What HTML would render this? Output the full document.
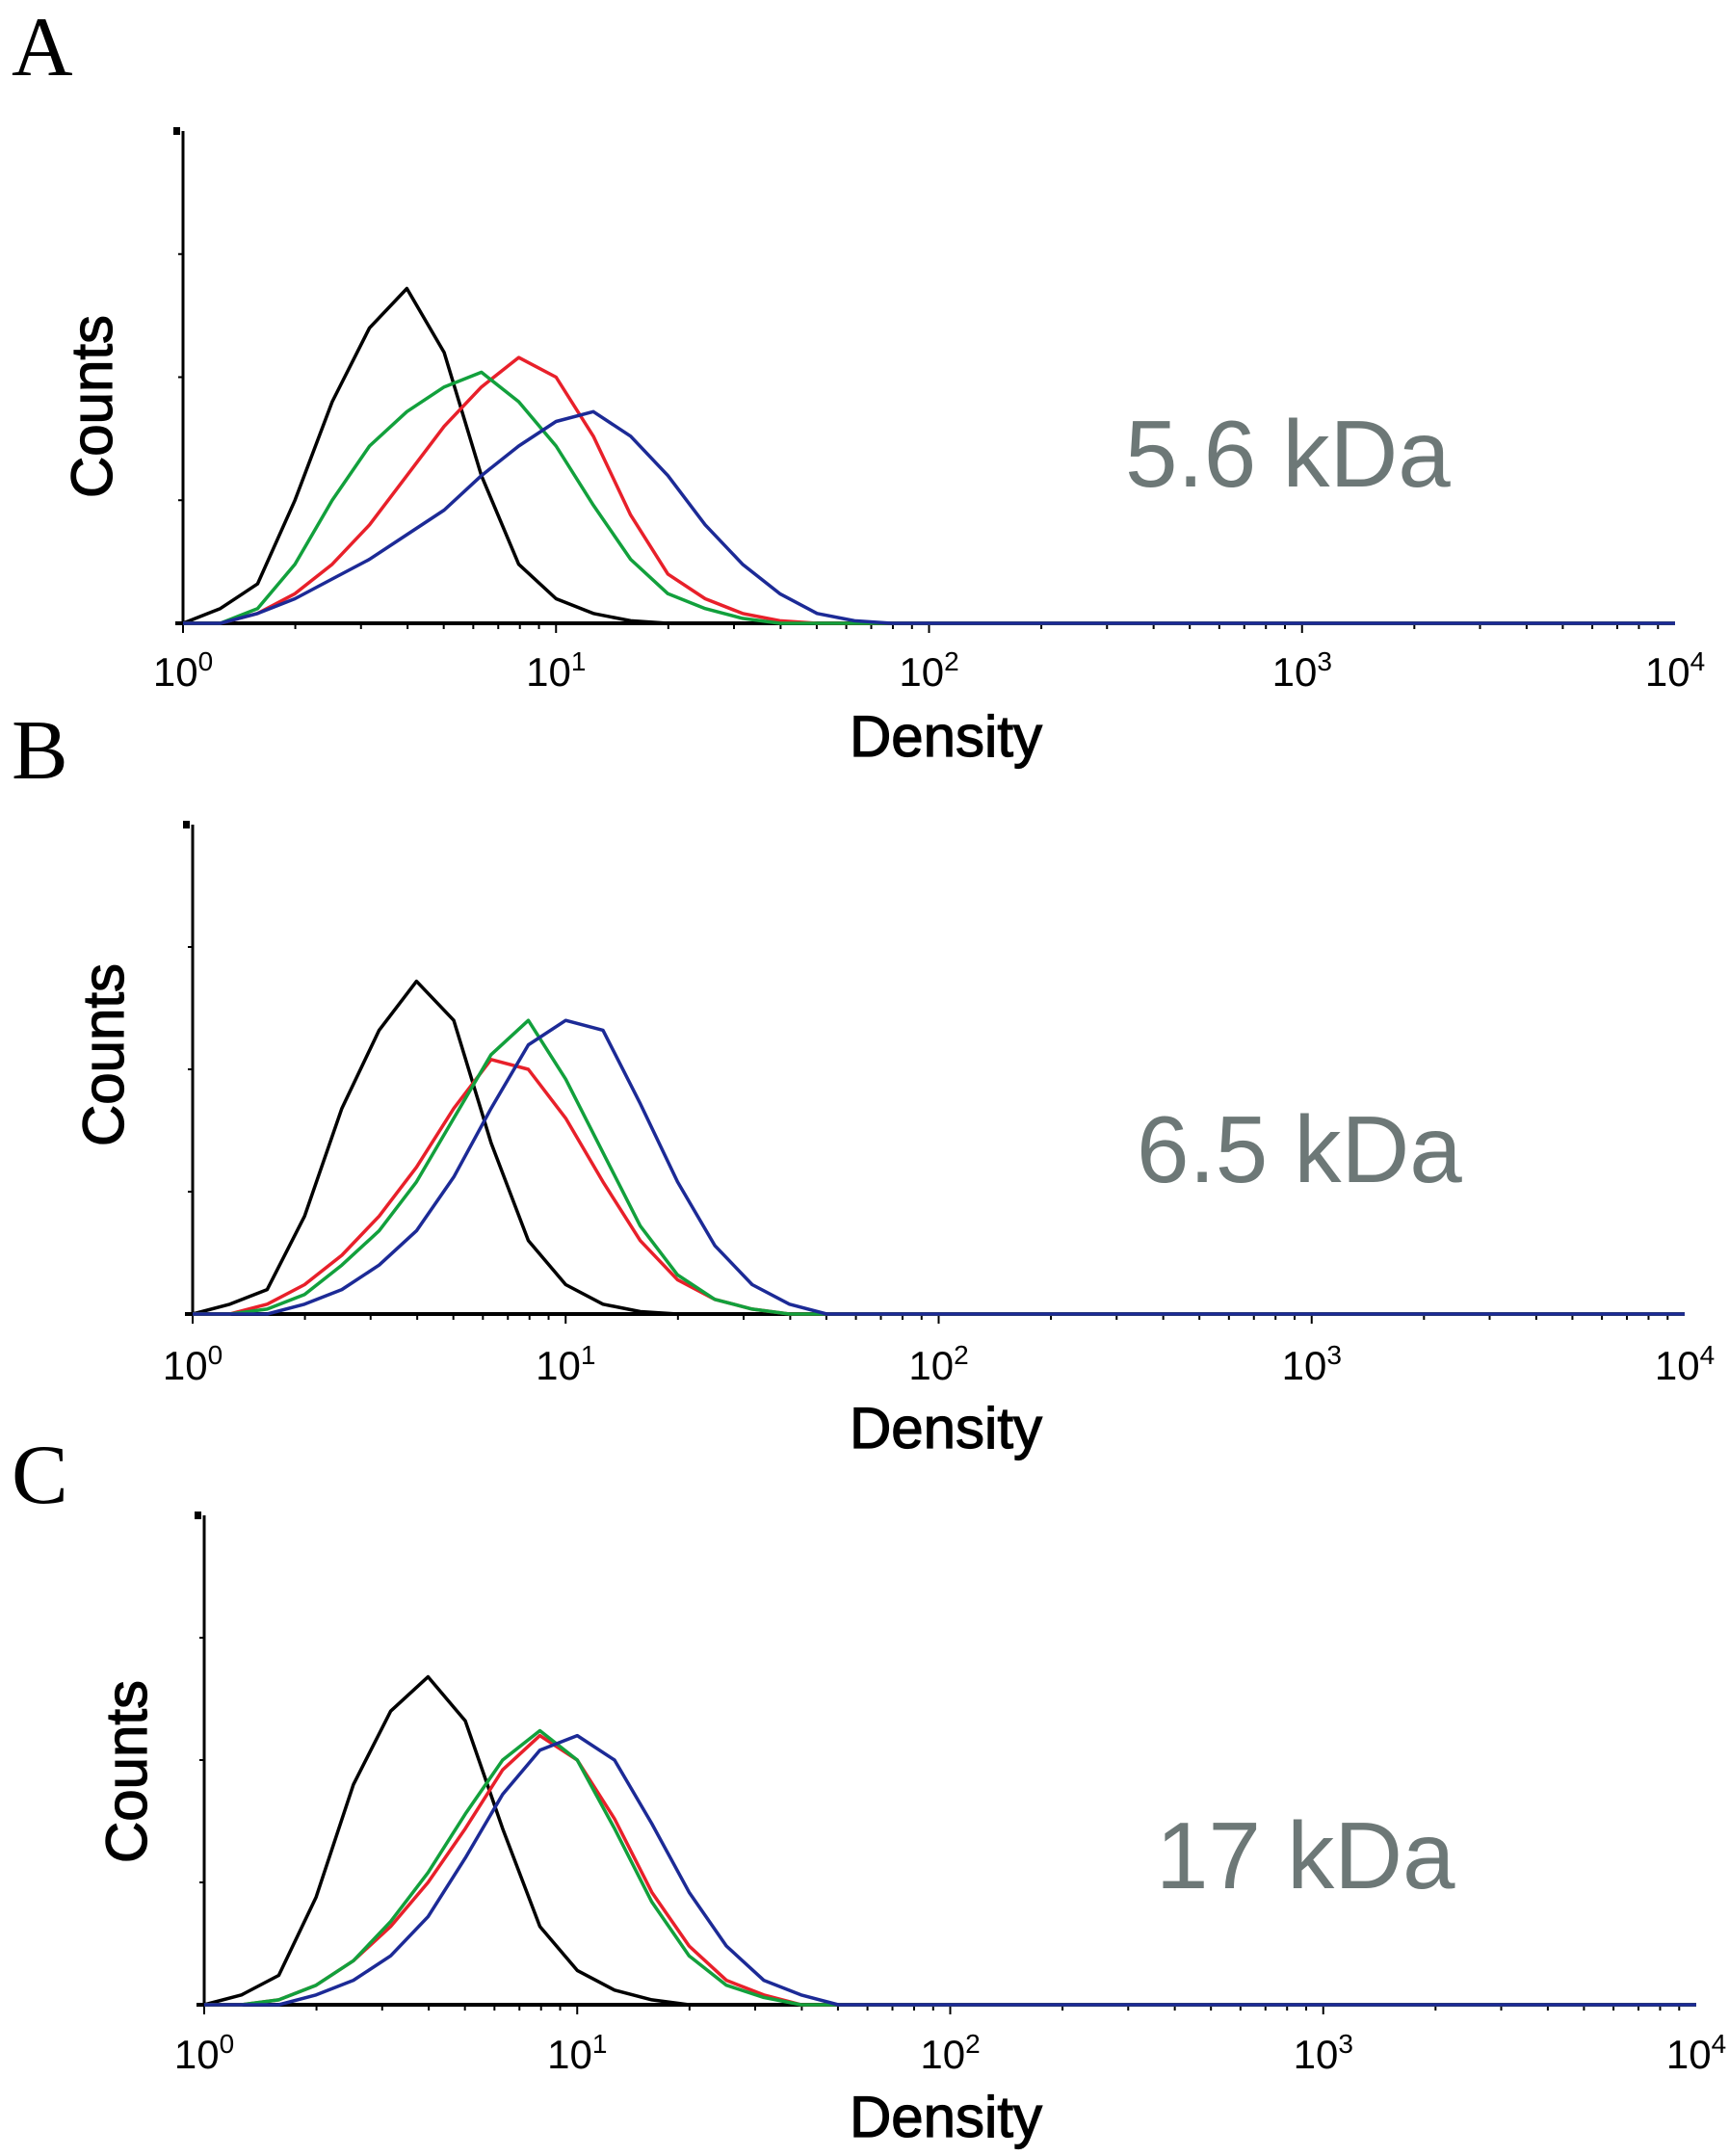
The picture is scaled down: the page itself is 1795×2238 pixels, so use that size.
<!DOCTYPE html>
<html><head><meta charset="utf-8"><style>
html,body{margin:0;padding:0;background:#fff;}
svg{display:block;}
.lt{font-family:"Liberation Serif",serif;font-size:88px;fill:#000;}
.tk{font-family:"Liberation Sans",sans-serif;font-size:42px;fill:#000;}
.ax{font-family:"Liberation Sans",sans-serif;font-size:60px;fill:#000;stroke:#000;stroke-width:1.2px;}
.kd{font-family:"Liberation Sans",sans-serif;font-size:98px;fill:#6d7877;}
</style></head><body>
<svg id="fig" width="1795" height="2238" viewBox="0 0 1795 2238" xmlns="http://www.w3.org/2000/svg"></svg>
<script>
// log10(density) sampling grid 0..2.0 step 0.1
const logGrid = [0,0.1,0.2,0.3,0.4,0.5,0.6,0.7,0.8,0.9,1.0,1.1,1.2,1.3,1.4,1.5,1.6,1.7,1.8,1.9,2.0];
const xTickLabels = ["0","1","2","3","4"];
const panelLabels = ["A","B","C"];
const kdaLabels = ["5.6 kDa","6.5 kDa","17 kDa"];
// fraction of axis height
const A_black = [0,0.03,0.08,0.25,0.45,0.6,0.68,0.55,0.3,0.12,0.05,0.02,0.005,0,0,0,0,0,0,0,0];
const A_red   = [0,0,0.02,0.06,0.12,0.2,0.3,0.4,0.48,0.54,0.5,0.38,0.22,0.1,0.05,0.02,0.005,0,0,0,0];
const A_green = [0,0,0.03,0.12,0.25,0.36,0.43,0.48,0.51,0.45,0.36,0.24,0.13,0.06,0.03,0.01,0,0,0,0,0];
const A_blue  = [0,0,0.02,0.05,0.09,0.13,0.18,0.23,0.3,0.36,0.41,0.43,0.38,0.3,0.2,0.12,0.06,0.02,0.005,0,0];
const B_black = [0,0.02,0.05,0.2,0.42,0.58,0.68,0.6,0.35,0.15,0.06,0.02,0.005,0,0,0,0,0,0,0,0];
const B_red   = [0,0,0.02,0.06,0.12,0.2,0.3,0.42,0.52,0.5,0.4,0.27,0.15,0.07,0.03,0.01,0,0,0,0,0];
const B_green = [0,0,0.01,0.04,0.1,0.17,0.27,0.4,0.53,0.6,0.48,0.33,0.18,0.08,0.03,0.01,0,0,0,0,0];
const B_blue  = [0,0,0,0.02,0.05,0.1,0.17,0.28,0.42,0.55,0.6,0.58,0.43,0.27,0.14,0.06,0.02,0,0,0,0];
const C_black = [0,0.02,0.06,0.22,0.45,0.6,0.67,0.58,0.36,0.16,0.07,0.03,0.01,0,0,0,0,0,0,0,0];
const C_red   = [0,0,0.01,0.04,0.09,0.16,0.25,0.36,0.48,0.55,0.5,0.38,0.23,0.12,0.05,0.02,0,0,0,0,0];
const C_green = [0,0,0.01,0.04,0.09,0.17,0.27,0.39,0.5,0.56,0.5,0.36,0.21,0.1,0.04,0.015,0,0,0,0,0];
const C_blue  = [0,0,0,0.02,0.05,0.1,0.18,0.3,0.43,0.52,0.55,0.5,0.37,0.23,0.12,0.05,0.02,0,0,0,0];

const panels = [
 {x0:190,x1:1739,top:136,base:647,tickY:712,densY:785,cx:100,cy:422,lx:12,ly:78,kx:1168,ky:505,series:[A_black,A_red,A_green,A_blue]},
 {x0:200,x1:1749,top:856,base:1364,tickY:1432,densY:1503,cx:112,cy:1095,lx:12,ly:808,kx:1180,ky:1227,series:[B_black,B_red,B_green,B_blue]},
 {x0:212,x1:1761,top:1573,base:2081,tickY:2147,densY:2218,cx:136,cy:1839,lx:12,ly:1560,kx:1200,ky:1960,series:[C_black,C_red,C_green,C_blue]}
];
const colors=["#000","#e8202a","#12a03c","#1c2a96"];
const names=["control","red","green","blue"];
const svg=document.getElementById('fig');
const NS="http://www.w3.org/2000/svg";
function mk(t,a,p){const e=document.createElementNS(NS,t);for(const k in a)e.setAttribute(k,a[k]);(p||svg).appendChild(e);return e;}
panels.forEach((P,pi)=>{
 const g=mk('g',{});
 
 
 const xs=v=>P.x0+(P.x1-P.x0)*v/4;
 const ys=f=>P.base-(P.base-P.top)*f;
 let t=mk('text',{x:P.lx,y:P.ly,class:'lt'},g);t.textContent=panelLabels[pi];
 
 
 let l=mk('line',{x1:P.x0,y1:P.top,x2:P.x0,y2:P.base,stroke:'#000','stroke-width':3},g);
 
 
 mk('rect',{x:P.x0-10,y:P.top-4,width:7,height:8,fill:'#000'},g);
 for(let i=1;i<4;i++)mk('line',{x1:P.x0-5,x2:P.x0,y1:ys(i*0.25),y2:ys(i*0.25),stroke:'#000','stroke-width':2},g);
 l=mk('line',{x1:P.x0-8,y1:P.base,x2:P.x1,y2:P.base,stroke:'#000','stroke-width':4},g);
 
 
 for(let d=0;d<4;d++)for(let m=1;m<10;m++){const x=xs(d+Math.log10(m));mk('line',{x1:x,x2:x,y1:P.base,y2:P.base+(m==1?10:6),stroke:'#000','stroke-width':2},g);}
 xTickLabels.forEach((s,i)=>{const tx=mk('text',{x:xs(i),y:P.tickY,class:'tk','text-anchor':'middle'},g);
  
  
  tx.innerHTML='10<tspan dy="-16" font-size="28">'+s+'</tspan>';});
 t=mk('text',{x:982,y:P.densY,class:'ax','text-anchor':'middle'},g);t.textContent='Density';
 
 
 t=mk('text',{x:P.cx,y:P.cy,class:'ax','text-anchor':'middle',transform:'rotate(-90 '+P.cx+' '+P.cy+')','dominant-baseline':'middle','font-size':'64'},g);t.textContent='Counts';
 
 
 t=mk('text',{x:P.kx,y:P.ky,class:'kd'},g);t.textContent=kdaLabels[pi];
 
 
 P.series.forEach((arr,si)=>{
  let pts=arr.map((v,i)=>xs(logGrid[i]).toFixed(1)+','+ys(v).toFixed(1));
  pts.push(xs(4).toFixed(1)+','+ys(0).toFixed(1));
  const pl=mk('polyline',{points:pts.join(' '),fill:'none',stroke:colors[si],'stroke-width':3.5,'stroke-linejoin':'round'},g);
  
  
 });
});
</script>
</body></html>
